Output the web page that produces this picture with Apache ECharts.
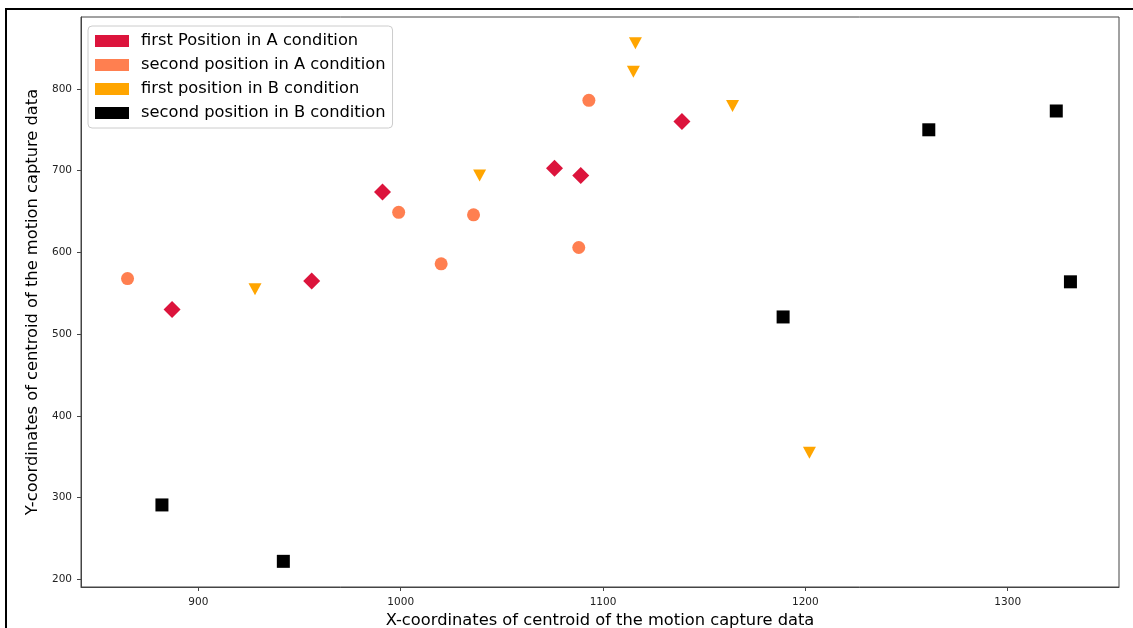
<!DOCTYPE html>
<html>
<head>
<meta charset="utf-8">
<script src="https://cdn.jsdelivr.net/npm/echarts@6/dist/echarts.min.js"></script>
<style>
html,body{margin:0;padding:0;background:#fff;}
#chart{width:1133px;height:628px;}
</style>
</head>
<body>
<div id="chart"></div>
<script>
// Series names
const seriesNames = [
  'first Position in A condition',
  'second position in A condition',
  'first position in B condition',
  'second position in B condition'
];
// [x, y] points per series
const firstPosA = [[887, 530], [956, 565], [991, 674], [1076, 703], [1089, 694], [1139, 760]];
const secondPosA = [[865, 568], [999, 649], [1020, 586], [1036, 646], [1088, 606], [1093, 786]];
const firstPosB = [[928, 555], [1039, 694], [1115, 821], [1116, 856], [1164, 779], [1202, 355]];
const secondPosB = [[882, 291], [942, 222], [1189, 521], [1261, 750], [1324, 773], [1331, 564]];
// Tick labels
const xTicks = [900, 1000, 1100, 1200, 1300];
const yTicks = [200, 300, 400, 500, 600, 700, 800];

const FONT = 'DejaVu Sans';
const chart = echarts.init(document.getElementById('chart'));
chart.setOption({
  animation: false,
  backgroundColor: '#fff',
  grid: {left: 81, right: 14, top: 17, bottom: 41, containLabel: false, outerBoundsMode: 'none',
         show: true, borderColor: '#444', borderWidth: 1},
  graphic: [{
    type: 'rect', silent: true, z: 100,
    shape: {x: 6, y: 9, width: 1300, height: 800},
    style: {fill: 'none', stroke: '#000', lineWidth: 2}
  }],
  legend: {
    orient: 'vertical', left: 88, top: 26,
    padding: [7, 7, 7, 7],
    backgroundColor: '#fff', borderColor: '#ccc', borderWidth: 1, borderRadius: 4,
    itemWidth: 34, itemHeight: 12, itemGap: 8,
    icon: 'rect',
    textStyle: {fontFamily: FONT, fontSize: 16.3, color: '#000', padding: [0, 0, 0, 7]},
    data: seriesNames
  },
  xAxis: {
    type: 'value', min: 842, max: 1355,
    name: 'X-coordinates of centroid of the motion capture data',
    nameLocation: 'middle', nameGap: 23,
    nameTextStyle: {fontFamily: FONT, fontSize: 16.3, color: '#000'},
    axisLine: {show: true, onZero: false, lineStyle: {color: '#444', width: 1}},
    axisTick: {show: true, length: 4, customValues: xTicks, lineStyle: {color: '#444'}},
    axisLabel: {customValues: xTicks, margin: 10, fontFamily: FONT, fontSize: 10.5, color: '#222', formatter: v => String(v)},
    splitLine: {show: false}
  },
  yAxis: {
    type: 'value', min: 190.6, max: 888,
    name: 'Y-coordinates of centroid of the motion capture data',
    nameLocation: 'middle', nameGap: 34,
    nameTextStyle: {fontFamily: FONT, fontSize: 16.3, color: '#000'},
    axisLine: {show: true, onZero: false, lineStyle: {color: '#444', width: 1}},
    axisTick: {show: true, length: 4, customValues: yTicks, lineStyle: {color: '#444'}},
    axisLabel: {customValues: yTicks, margin: 9, fontFamily: FONT, fontSize: 10.5, color: '#222', formatter: v => String(v)},
    splitLine: {show: false}
  },
  series: [
    {name: seriesNames[0], type: 'scatter', data: firstPosA, symbol: 'diamond', symbolSize: [17, 17], itemStyle: {color: '#DC143C', opacity: 1}},
    {name: seriesNames[1], type: 'scatter', data: secondPosA, symbol: 'circle', symbolSize: 13, itemStyle: {color: '#FF7F50', opacity: 1}},
    {name: seriesNames[2], type: 'scatter', data: firstPosB, symbol: 'triangle', symbolRotate: 180, symbolSize: [13, 12], itemStyle: {color: '#FFA500', opacity: 1}},
    {name: seriesNames[3], type: 'scatter', data: secondPosB, symbol: 'rect', symbolSize: 13, itemStyle: {color: '#000', opacity: 1}}
  ]
});
</script>
</body>
</html>
